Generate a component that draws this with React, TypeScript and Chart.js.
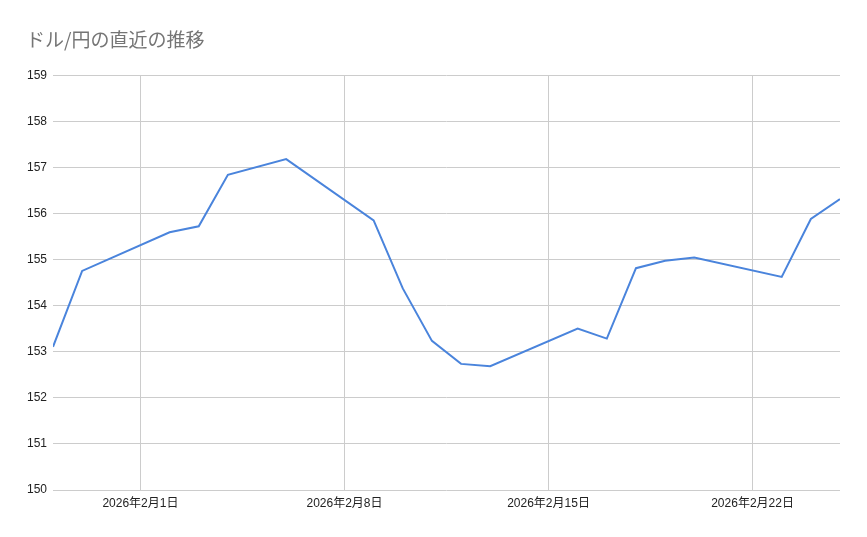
import { useEffect, useRef } from "react";
import Chart from "chart.js/auto";

// ドル/円 終値（営業日のみ）
const dates = [
	"2026-01-29", "2026-01-30",
	"2026-02-02", "2026-02-03", "2026-02-04", "2026-02-06",
	"2026-02-09", "2026-02-10", "2026-02-11", "2026-02-12", "2026-02-13",
	"2026-02-16", "2026-02-17", "2026-02-18", "2026-02-19", "2026-02-20",
	"2026-02-23", "2026-02-24", "2026-02-25"
];
const rates = [
	153.11, 154.76,
	155.6, 155.73, 156.85, 157.19,
	155.86, 154.38, 153.24, 152.74, 152.69,
	153.51, 153.29, 154.82, 154.98, 155.05,
	154.63, 155.89, 156.32
];
const xTickDates = ["2026-02-01", "2026-02-08", "2026-02-15", "2026-02-22"];
const xRange = ["2026-01-29", "2026-02-25"];
const yTicks = [150, 151, 152, 153, 154, 155, 156, 157, 158, 159];

const DAY = 86400000;
const toDay = (s: string) => Date.parse(s + "T00:00:00Z") / DAY;
const fmtDay = (v: number) => {
	const d = new Date(v * DAY);
	return `${d.getUTCFullYear()}年${d.getUTCMonth() + 1}月${d.getUTCDate()}日`;
};

const FONT = "Arial, 'Liberation Sans', 'Noto Sans CJK JP', sans-serif";

export default function App() {
	const canvasRef = useRef<HTMLCanvasElement>(null);
	const chartRef = useRef<Chart | null>(null);

	useEffect(() => {
		if (!canvasRef.current) return;

		chartRef.current = new Chart(canvasRef.current, {
			type: "line",
			data: {
				datasets: [
					{
						data: dates.map((d, i) => ({ x: toDay(d), y: rates[i] })),
						borderColor: "#4a84dc",
						borderWidth: 2,
						pointRadius: 0,
						pointHoverRadius: 0,
						tension: 0,
						fill: false
					}
				]
			},
			options: {
				animation: false,
				responsive: false,
				devicePixelRatio: 1,
				layout: { padding: { left: 26, right: 27, top: 0, bottom: 0 } },
				plugins: {
					legend: { display: false },
					tooltip: { enabled: false },
					title: {
						display: true,
						text: "ドル/円の直近の推移",
						align: "start",
						color: "#757575",
						font: { family: "'Noto Sans CJK JP', sans-serif", size: 19, weight: "normal" },
						padding: { top: 28, bottom: 25 }
					}
				},
				scales: {
					x: {
						type: "linear",
						min: toDay(xRange[0]),
						max: toDay(xRange[1]),
						afterBuildTicks: (axis) => {
							axis.ticks = xTickDates.map((d) => ({ value: toDay(d) }));
						},
						afterFit: (axis) => {
							axis.height = 47;
						},
						border: { display: false },
						grid: { color: "#cccccc", drawTicks: false, lineWidth: 1 },
						ticks: {
							autoSkip: false,
							maxRotation: 0,
							padding: 6,
							color: "#222222",
							font: { family: FONT, size: 12 },
							callback: (v) => fmtDay(Number(v))
						}
					},
					y: {
						min: yTicks[0],
						max: yTicks[yTicks.length - 1],
						afterBuildTicks: (axis) => {
							axis.ticks = yTicks.map((v) => ({ value: v }));
						},
						afterFit: (axis) => {
							axis.width = 27;
						},
						border: { display: false },
						grid: { color: "#cccccc", drawTicks: false, lineWidth: 1 },
						ticks: {
							padding: 6,
							color: "#222222",
							font: { family: FONT, size: 12 }
						}
					}
				}
			}
		});

		return () => {
			chartRef.current?.destroy();
			chartRef.current = null;
		};
	}, []);

	return (
		<div
			style={{
				position: "absolute",
				left: 0,
				top: 0,
				width: 867,
				height: 537,
				background: "#ffffff"
			}}
		>
			<canvas ref={canvasRef} width={867} height={537} style={{ width: 867, height: 537 }} />
		</div>
	);
}
